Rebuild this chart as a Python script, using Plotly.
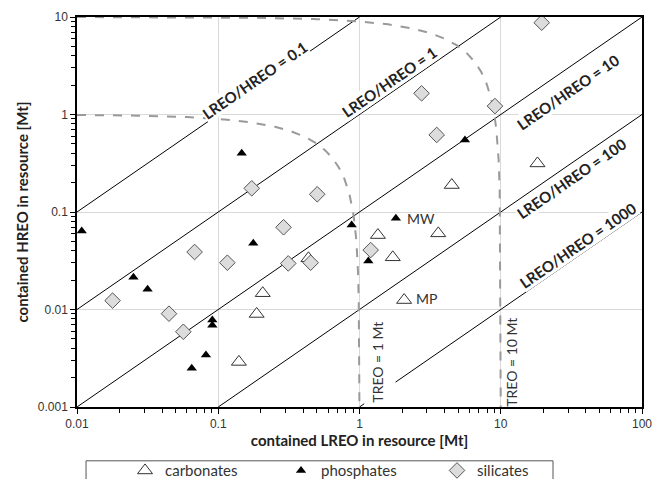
import math
import numpy as np
import plotly.graph_objects as go

# ---------------- data ----------------
carb_x = [0.2065, 0.187, 0.140, 1.35, 3.61, 1.72, 2.07, 4.5, 18.2, 0.435]
carb_y = [0.0147, 0.0090, 0.0029, 0.058, 0.0604, 0.0343, 0.0125, 0.189, 0.315, 0.0335]

phos_x = [0.0108, 0.0251, 0.0316, 0.177, 0.0908, 0.0908, 0.0818, 0.0649, 0.1466, 5.58, 0.88, 1.81, 1.155]
phos_y = [0.0638, 0.0214, 0.0161, 0.0478, 0.0078, 0.0069, 0.00341, 0.00249, 0.40, 0.547, 0.0736, 0.0861, 0.0314]

sil_x = [0.01786, 0.0448, 0.0566, 0.068, 0.116, 0.290, 0.313, 0.451, 0.1726, 0.502, 1.2, 19.5, 2.75, 9.1, 3.52]
sil_y = [0.01233, 0.00906, 0.00591, 0.0389, 0.0302, 0.0697, 0.0297, 0.0302, 0.175, 0.152, 0.0407, 8.74, 1.65, 1.22, 0.617]

ratios = [0.1, 1, 10, 100, 1000]
ratio_labels = ["LREO/HREO = 0.1", "LREO/HREO = 1", "LREO/HREO = 10", "LREO/HREO = 100", "LREO/HREO = 1000"]
# label centre positions (log10 x, log10 y)
ratio_lab_x = [-0.74, 0.21, 1.476, 1.504, 1.547]
ratio_lab_y = [0.354, 0.33, 0.231, -0.651, -1.338]

treo_levels = [1, 10]
treo_labels = ["TREO = 1 Mt", "TREO = 10 Mt"]

x_ticks = [0.01, 0.1, 1, 10, 100]
x_ticktext = ["0.01", "0.1", "1", "10", "100"]
y_ticks = [0.001, 0.01, 0.1, 1, 10]
y_ticktext = ["0.001", "0.01", "0.1", "1", "10"]

XMIN, XMAX, YMIN, YMAX = 0.01, 100, 0.001, 10

# ---------------- figure ----------------
W, H = 654, 479
ML, MR, MT, MB = 77, 12, 17, 72
pw, ph = W - ML - MR, H - MT - MB
angle = math.degrees(math.atan((ph / 4) / (pw / 4)))

fig = go.Figure()

# ratio lines
for r in ratios:
    x0 = max(XMIN, YMIN * r)
    x1 = min(XMAX, YMAX * r)
    if r == 1000:
        # gap left for the TREO label
        fig.add_trace(go.Scatter(x=[x0, 1.08], y=[x0 / r, 1.08 / r], mode="lines",
                                 line=dict(color="black", width=1), showlegend=False, hoverinfo="skip"))
        x0 = 1.8
    fig.add_trace(go.Scatter(x=[x0, x1], y=[x0 / r, x1 / r], mode="lines",
                             line=dict(color="black", width=1), showlegend=False, hoverinfo="skip"))

# TREO curves (x + y = T)
for T in treo_levels:
    xs = np.logspace(-2, math.log10(T - YMIN), 400)
    ys = T - xs
    fig.add_trace(go.Scatter(x=xs, y=ys, mode="lines",
                             line=dict(color="#9a9a9a", width=2, dash="dash"),
                             showlegend=False, hoverinfo="skip"))

fig.add_trace(go.Scatter(x=carb_x, y=carb_y, mode="markers", name="carbonates",
                         marker=dict(symbol="triangle-up", size=13, color="white",
                                     line=dict(color="#333333", width=1))))
fig.add_trace(go.Scatter(x=phos_x, y=phos_y, mode="markers", name="phosphates",
                         marker=dict(symbol="triangle-up", size=9, color="black",
                                     line=dict(color="black", width=0))))
fig.add_trace(go.Scatter(x=sil_x, y=sil_y, mode="markers", name="silicates",
                         marker=dict(symbol="diamond", size=12, color="#dcdcdc",
                                     line=dict(color="#555555", width=1))))

ann = []
for lab, ax_, ay_ in zip(ratio_labels, ratio_lab_x, ratio_lab_y):
    ann.append(dict(x=ax_, y=ay_, xref="x", yref="y", text="<b>" + lab + "</b>",
                    showarrow=False, textangle=-angle, bgcolor="white", borderpad=0,
                    font=dict(family="Lato, Open Sans, sans-serif", size=15, color="#222222")))
for lab, tx in zip(treo_labels, [0.131, 1.080]):
    ann.append(dict(x=tx, y=-2.545, xref="x", yref="y", text=lab, showarrow=False,
                    textangle=-90, font=dict(family="Lato, sans-serif", size=14, color="#333333")))
ann.append(dict(x=0.322, y=-1.062, xref="x", yref="y", text="MW", showarrow=False, xanchor="left",
                font=dict(family="Lato, sans-serif", size=14, color="#333333")))
ann.append(dict(x=0.386, y=-1.882, xref="x", yref="y", text="MP", showarrow=False, xanchor="left",
                font=dict(family="Lato, sans-serif", size=14, color="#333333")))

minor_x = [m * 10 ** e for e in range(-2, 2) for m in range(2, 10)]
minor_y = [m * 10 ** e for e in range(-3, 1) for m in range(2, 10)]

fig.update_layout(
    width=W, height=H,
    margin=dict(l=ML, r=MR, t=MT, b=MB, autoexpand=False),
    paper_bgcolor="white", plot_bgcolor="white",
    font=dict(family="Liberation Sans, Arial, sans-serif", size=12, color="#333333"),
    annotations=ann,
    shapes=[dict(type="rect", xref="paper", yref="paper", x0=0.016, x1=0.8425, y0=-0.30, y1=-0.138,
                 line=dict(color="#555555", width=1), fillcolor="rgba(0,0,0,0)", layer="above")],
    legend=dict(orientation="h", x=0.085, y=-0.121, xanchor="left", yanchor="top",
                borderwidth=0, bgcolor="rgba(0,0,0,0)",
                entrywidth=111, entrywidthmode="pixels",
                font=dict(family="Lato, sans-serif", size=15, color="#333333")),
)
fig.update_xaxes(type="log", range=[-2, 2], tickvals=x_ticks, ticktext=x_ticktext,
                 showgrid=True, gridcolor="#d9d9d9", gridwidth=1,
                 showline=True, linecolor="black", linewidth=1.5, mirror=True,
                 ticks="outside", ticklen=5, tickcolor="black", ticklabeloverflow="allow",
                 minor=dict(tickvals=minor_x, ticks="outside", ticklen=4, tickcolor="black", showgrid=False),
                 zeroline=False, automargin=False,
                 title=dict(text="<b>contained LREO in resource [Mt]</b>", standoff=0,
                            font=dict(family="Lato, sans-serif", size=15, color="#222222")))
fig.update_yaxes(type="log", range=[-3, 1], tickvals=y_ticks, ticktext=y_ticktext,
                 showgrid=True, gridcolor="#d9d9d9", gridwidth=1,
                 showline=True, linecolor="black", linewidth=1.5, mirror=True,
                 ticks="outside", ticklen=5, tickcolor="black",
                 minor=dict(tickvals=minor_y, ticks="outside", ticklen=4, tickcolor="black", showgrid=False),
                 zeroline=False, automargin=False,
                 title=dict(text="<b>contained HREO in resource [Mt]</b>", standoff=6,
                            font=dict(family="Lato, sans-serif", size=15, color="#222222")))

fig.write_html("out.html", config={"displayModeBar": False},
               post_script="document.body.style.margin='0px';document.body.style.overflow='hidden';")
